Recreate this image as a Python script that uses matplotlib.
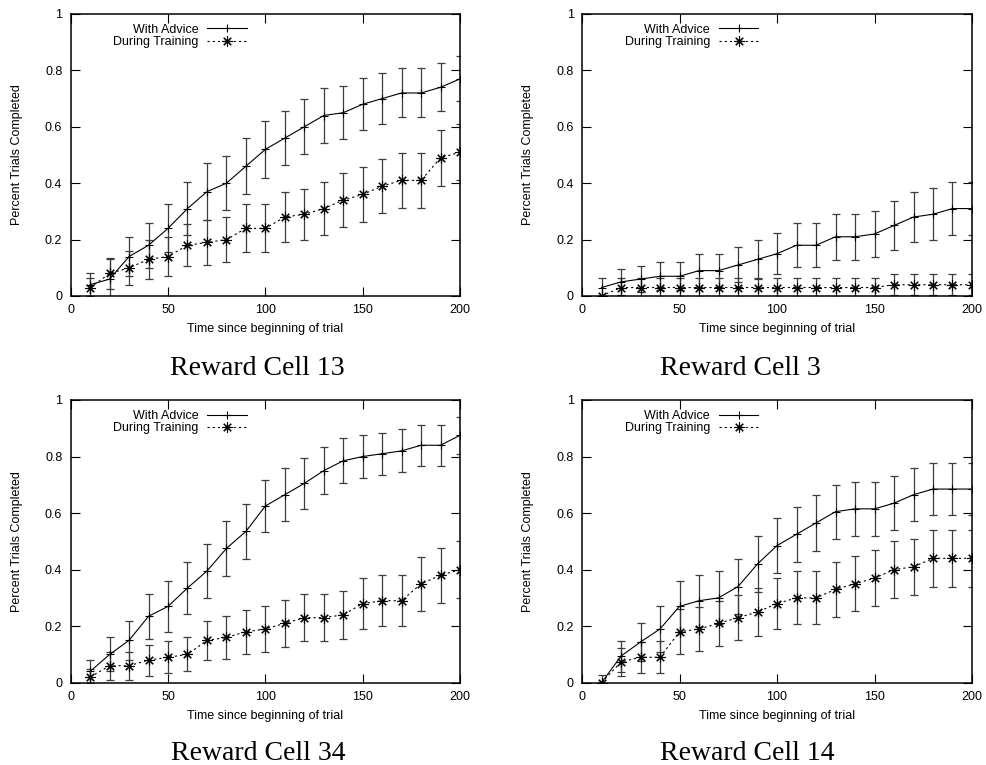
import matplotlib
matplotlib.use("Agg")
import matplotlib.pyplot as plt
import numpy as np

# ---------------- data ----------------
time_steps = [10, 20, 30, 40, 50, 60, 70, 80, 90, 100,
              110, 120, 130, 140, 150, 160, 170, 180, 190, 200]

series_labels = ["With Advice", "During Training"]
captions = ["Reward Cell 13", "Reward Cell 3", "Reward Cell 34", "Reward Cell 14"]

cell13_advice = [0.04, 0.06, 0.14, 0.18, 0.24, 0.31, 0.37, 0.40, 0.46, 0.52,
                 0.56, 0.60, 0.64, 0.65, 0.68, 0.70, 0.72, 0.72, 0.74, 0.77]
cell13_advice_err = [0.04, 0.07, 0.07, 0.08, 0.085, 0.095, 0.10, 0.095, 0.10, 0.10,
                     0.097, 0.097, 0.097, 0.094, 0.093, 0.09, 0.087, 0.087, 0.085, 0.08]
cell13_training = [0.03, 0.08, 0.10, 0.13, 0.14, 0.18, 0.19, 0.20, 0.24, 0.24,
                   0.28, 0.29, 0.31, 0.34, 0.36, 0.39, 0.41, 0.41, 0.49, 0.51]
cell13_training_err = [0.035, 0.055, 0.06, 0.07, 0.07, 0.075, 0.08, 0.08, 0.085, 0.085,
                       0.09, 0.09, 0.093, 0.095, 0.097, 0.097, 0.097, 0.097, 0.10, 0.10]

cell3_advice = [0.03, 0.05, 0.06, 0.07, 0.07, 0.09, 0.09, 0.11, 0.13, 0.15,
                0.18, 0.18, 0.21, 0.21, 0.22, 0.25, 0.28, 0.29, 0.31, 0.31]
cell3_advice_err = [0.033, 0.045, 0.047, 0.05, 0.05, 0.058, 0.058, 0.062, 0.068, 0.072,
                    0.078, 0.078, 0.082, 0.082, 0.083, 0.087, 0.09, 0.092, 0.094, 0.094]
cell3_training = [0.0, 0.03, 0.03, 0.03, 0.03, 0.03, 0.03, 0.03, 0.03, 0.03,
                  0.03, 0.03, 0.03, 0.03, 0.03, 0.04, 0.04, 0.04, 0.04, 0.04]
cell3_training_err = [0.0, 0.033, 0.033, 0.033, 0.033, 0.033, 0.033, 0.033, 0.033, 0.033,
                      0.033, 0.033, 0.033, 0.033, 0.033, 0.038, 0.038, 0.038, 0.038, 0.038]

cell34_advice = [0.04, 0.10, 0.15, 0.235, 0.27, 0.335, 0.395, 0.475, 0.535, 0.625,
                 0.665, 0.705, 0.75, 0.785, 0.80, 0.81, 0.82, 0.84, 0.84, 0.875]
cell34_advice_err = [0.04, 0.06, 0.07, 0.08, 0.09, 0.092, 0.094, 0.096, 0.096, 0.093,
                     0.094, 0.089, 0.084, 0.08, 0.077, 0.075, 0.076, 0.072, 0.072, 0.066]
cell34_training = [0.02, 0.06, 0.06, 0.08, 0.09, 0.10, 0.15, 0.16, 0.18, 0.19,
                   0.21, 0.23, 0.23, 0.24, 0.28, 0.29, 0.29, 0.35, 0.38, 0.40]
cell34_training_err = [0.03, 0.05, 0.05, 0.055, 0.056, 0.06, 0.07, 0.075, 0.078, 0.08,
                       0.083, 0.083, 0.083, 0.085, 0.09, 0.09, 0.09, 0.095, 0.097, 0.10]

cell14_advice = [0.0, 0.094, 0.144, 0.19, 0.27, 0.29, 0.30, 0.34, 0.42, 0.485,
                 0.525, 0.565, 0.605, 0.615, 0.615, 0.635, 0.665, 0.685, 0.685, 0.685]
cell14_advice_err = [0.028, 0.055, 0.066, 0.08, 0.09, 0.092, 0.094, 0.096, 0.10, 0.098,
                     0.098, 0.098, 0.096, 0.095, 0.095, 0.095, 0.094, 0.092, 0.092, 0.092]
cell14_training = [0.0, 0.073, 0.09, 0.09, 0.18, 0.19, 0.21, 0.23, 0.25, 0.28,
                   0.30, 0.30, 0.33, 0.35, 0.37, 0.40, 0.41, 0.44, 0.44, 0.44]
cell14_training_err = [0.0, 0.05, 0.055, 0.056, 0.08, 0.078, 0.08, 0.08, 0.085, 0.09,
                       0.094, 0.094, 0.097, 0.098, 0.10, 0.10, 0.10, 0.10, 0.10, 0.10]

x_ticks = [0, 50, 100, 150, 200]
y_ticks = [0, 0.2, 0.4, 0.6, 0.8, 1]
y_tick_labels = ["0", "0.2", "0.4", "0.6", "0.8", "1"]

panels = [
    (cell13_advice, cell13_advice_err, cell13_training, cell13_training_err),
    (cell3_advice, cell3_advice_err, cell3_training, cell3_training_err),
    (cell34_advice, cell34_advice_err, cell34_training, cell34_training_err),
    (cell14_advice, cell14_advice_err, cell14_training, cell14_training_err),
]

# ---------------- style ----------------
plt.rcParams['font.family'] = ['Liberation Sans', 'DejaVu Sans']
W, H = 987, 765
fig = plt.figure(figsize=(W / 100, H / 100), dpi=100)

# axes boxes in pixels: (left, top, right, bottom)
boxes = [(70.7, 14, 460, 296), (582, 14, 972, 296),
         (70.7, 400, 460, 682.7), (582, 400, 972, 682.7)]
caption_pos = [(257, 375), (740, 375), (258, 760.5), (747, 760.5)]

star = (8, 2, 0)
for i, (box, data) in enumerate(zip(boxes, panels)):
    l, t, r, b = box
    ax = fig.add_axes([l / W, 1 - b / H, (r - l) / W, (b - t) / H])
    adv, adv_err, trn, trn_err = data
    ax.errorbar(time_steps, adv, yerr=adv_err, fmt='none', ecolor='#3c3c3c',
                elinewidth=0.9, capsize=2.6, capthick=0.9)
    ax.errorbar(time_steps, trn, yerr=trn_err, fmt='none', ecolor='#3c3c3c',
                elinewidth=0.9, capsize=2.6, capthick=0.9)
    ax.plot(time_steps, adv, color='black', lw=0.8, marker='+', ms=6, mew=0.8,
            label=series_labels[0])
    ax.plot(time_steps, trn, color='black', lw=0.8, ls=(0, (2, 2.7)), marker=star,
            ms=7.5, mew=0.8, label=series_labels[1])
    ax.set_xlim(0, 200)
    ax.set_ylim(0, 1)
    ax.set_xticks(x_ticks)
    ax.set_yticks(y_ticks)
    ax.set_yticklabels(y_tick_labels)
    ax.tick_params(direction='in', length=6.5, width=0.8, top=True, right=True,
                   labelsize=9, pad=6, colors='black')
    for sp in ax.spines.values():
        sp.set_linewidth(1.1)
    ax.set_xlabel("Time since beginning of trial", fontsize=9)
    ax.set_ylabel("Percent Trials Completed", fontsize=9)
    ax.xaxis.set_label_coords(0.5, -0.118)
    ax.xaxis.label.set_va('center')
    ax.yaxis.set_label_coords((17 - l) / (r - l) if i % 2 == 0 else (527.5 - l) / (r - l), 0.5)
    ax.yaxis.label.set_va('center')
    leg = ax.legend(loc='upper right', bbox_to_anchor=(0.452, 0.965), markerfirst=False,
                    frameon=False, fontsize=9, handlelength=3.15, handletextpad=0.72,
                    labelspacing=0.02, borderpad=0, borderaxespad=0, numpoints=1)
    cx, cy = caption_pos[i]
    fig.text(cx / W, 1 - cy / H, captions[i], ha='center', va='baseline',
             fontsize=20, family=['Liberation Serif', 'DejaVu Serif'])

fig.savefig("out.png", dpi=100)
